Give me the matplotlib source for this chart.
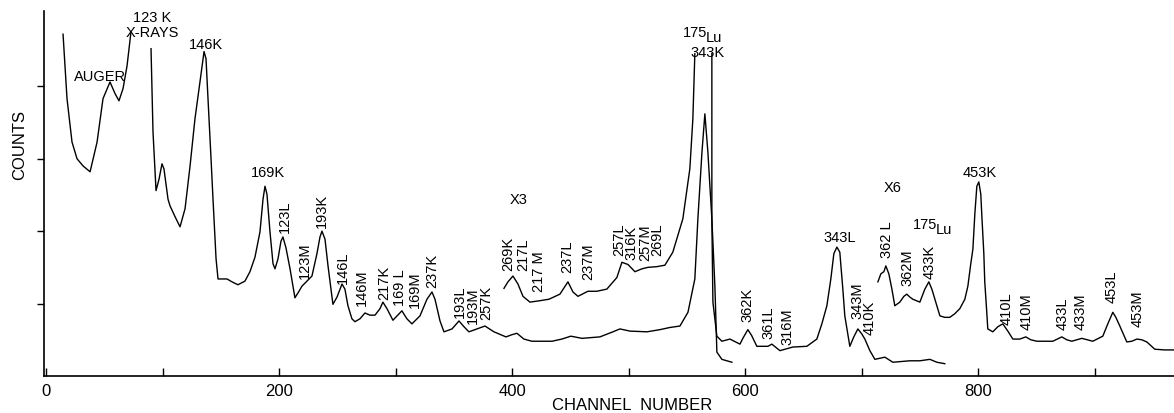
import numpy as np
import matplotlib
matplotlib.use("Agg")
import matplotlib.pyplot as plt

plt.rcParams['font.family'] = ['Liberation Sans', 'DejaVu Sans']

# spectrum (channel, counts in arbitrary units)
# nan = pen off scale
ch_main = [14.6, 18.0, 22.3, 26.6, 31.8, 37.8, 43.8, 48.9, 54.9, 59.2, 62.6, 66.1, 69.5, 72.9,
           80.0,
           90.1, 91.8, 94.4, 97.0, 99.5, 101.2, 104.7, 106.4, 110.7, 115.0, 119.3, 123.6, 127.8,
           132.1, 135.6, 137.3, 139.0, 141.6, 143.3, 145.9, 147.6, 151.0, 155.3, 159.6, 164.7,
           170.7, 175.0, 179.3, 183.6, 186.2, 187.9, 189.6, 192.2, 194.8, 196.5, 199.1, 201.6,
           203.3, 205.9, 209.4, 213.6, 217.1, 219.6, 223.9, 228.2, 232.5, 235.1, 236.8, 239.4,
           242.0, 246.2, 249.7, 254.0, 256.5, 259.1, 262.5, 265.1, 269.4, 273.7, 278.0, 282.3,
           286.6, 289.1, 292.6, 297.7, 305.4, 309.7, 314.0, 320.9, 326.9, 331.2, 333.8, 338.1,
           341.5, 348.4, 354.4, 358.7, 362.9, 369.8, 376.7, 384.4, 394.7, 399.8, 404.1, 410.1,
           417.0, 434.2, 442.7, 450.4, 459.9, 475.3, 486.5, 492.5, 501.1, 515.7, 526.8, 535.4,
           544.0, 550.9, 556.8, 559.4, 562.9, 565.4, 568.0, 571.4, 574.0, 575.7, 580.0, 588.6]
y_main = [4.72, 3.83, 3.23, 3.00, 2.90, 2.82, 3.23, 3.83, 4.06, 3.90, 3.80, 3.97, 4.28, 4.75,
          np.nan,
          4.52, 3.37, 2.56, 2.72, 2.93, 2.86, 2.44, 2.35, 2.20, 2.06, 2.31, 2.90, 3.55,
          4.06, 4.48, 4.38, 3.83, 3.00, 2.44, 1.62, 1.34, 1.34, 1.34, 1.30, 1.26,
          1.31, 1.44, 1.64, 1.99, 2.44, 2.62, 2.51, 1.99, 1.55, 1.48, 1.62, 1.86,
          1.92, 1.77, 1.48, 1.08, 1.17, 1.24, 1.31, 1.38, 1.69, 1.92, 2.00, 1.89,
          1.52, 0.99, 1.09, 1.27, 1.20, 0.97, 0.79, 0.75, 0.79, 0.87, 0.84, 0.84,
          0.93, 1.02, 0.93, 0.77, 0.90, 0.79, 0.72, 0.83, 1.06, 1.16, 1.06, 0.76,
          0.61, 0.65, 0.76, 0.68, 0.61, 0.65, 0.69, 0.61, 0.54, 0.57, 0.59, 0.51,
          0.48, 0.48, 0.51, 0.55, 0.52, 0.54, 0.61, 0.65, 0.62, 0.61, 0.64, 0.67,
          0.69, 0.88, 1.34, 2.17, 3.09, 3.62, 3.09, 2.17, 1.24, 0.33, 0.23, 0.19]

# x3 section
ch_x3 = [393.0, 396.4, 400.7, 405.0, 409.3, 415.3, 423.9, 431.6, 441.0, 447.9, 452.2, 456.5,
         465.0, 472.7, 481.3, 489.9, 494.2, 499.4, 505.4, 511.4, 516.5, 524.2, 531.1, 537.9,
         546.5, 552.5, 555.1, 556.8,
         564.0,
         571.4, 571.4, 572.3, 575.7, 580.0, 586.9, 595.5, 598.0, 602.3, 605.5, 610.0, 619.5,
         622.9, 629.8, 640.9, 652.9, 661.5, 665.8, 670.1, 673.5, 676.1, 678.7, 681.2, 683.8,
         685.5, 689.8, 693.2, 696.7, 700.1, 702.7, 707.0, 711.3, 719.9, 726.7, 741.3, 749.9,
         758.5, 764.5, 771.3]
y_x3 = [1.21, 1.30, 1.38, 1.27, 1.10, 1.02, 1.04, 1.06, 1.13, 1.30, 1.16, 1.10,
        1.17, 1.17, 1.20, 1.36, 1.57, 1.54, 1.44, 1.48, 1.50, 1.51, 1.53, 1.71,
        2.17, 2.86, 3.55, 4.45,
        np.nan,
        4.45, 2.17, 1.02, 0.55, 0.48, 0.51, 0.44, 0.52, 0.64, 0.56, 0.41, 0.41,
        0.44, 0.35, 0.40, 0.41, 0.51, 0.72, 0.97, 1.34, 1.69, 1.78, 1.71, 1.20,
        0.83, 0.41, 0.54, 0.65, 0.58, 0.51, 0.35, 0.23, 0.26, 0.19, 0.21, 0.21,
        0.23, 0.19, 0.17]

# x6 section
ch_x6 = [713.9, 716.4, 719.0, 720.7, 723.3, 725.9, 728.4, 732.7, 736.2, 738.7, 741.3, 743.9,
         749.9, 754.2, 757.6, 760.2, 762.8, 767.1, 771.3, 775.6, 779.9, 784.2, 788.5, 791.1,
         793.6, 795.4, 797.1, 798.8, 800.5, 802.2, 803.1, 804.8, 805.6, 807.4, 808.2, 812.5,
         816.8, 821.1, 825.4, 829.7, 835.7, 840.8, 845.1, 850.3, 864.0, 871.7, 876.0, 880.3,
         888.9, 898.3, 906.9, 911.2, 915.5, 918.1, 921.5, 927.5, 931.8, 936.1, 940.4, 944.7,
         951.5, 960.1, 968.0]
y_x6 = [1.30, 1.41, 1.44, 1.52, 1.41, 1.20, 0.97, 1.02, 1.10, 1.13, 1.09, 1.06,
        1.02, 1.20, 1.30, 1.20, 1.06, 0.83, 0.81, 0.81, 0.86, 0.93, 1.06, 1.24,
        1.55, 1.75, 2.24, 2.62, 2.68, 2.51, 2.21, 1.69, 1.30, 0.86, 0.65, 0.61,
        0.68, 0.72, 0.62, 0.51, 0.51, 0.54, 0.50, 0.48, 0.48, 0.54, 0.50, 0.48,
        0.52, 0.48, 0.55, 0.72, 0.88, 0.81, 0.69, 0.47, 0.48, 0.51, 0.50, 0.47,
        0.37, 0.36, 0.36]

# peak labels: text, channel, height
flat_labels = [("AUGER", 46.3, 4.14), ("123 K", 91.0, 4.96), ("X-RAYS", 91.0, 4.75),
               ("146K", 137.3, 4.59), ("169K", 190.5, 2.82), ("X3", 405.8, 2.44),
               ("343K", 568.0, 4.48), ("343L", 681.2, 1.92), ("X6", 726.7, 2.61),
               ("453K", 801.4, 2.82)]
rot_labels = [("123L", 205.1, 2.21), ("123M", 222.2, 1.60), ("193K", 236.8, 2.29),
              ("146L", 254.8, 1.51), ("146M", 271.1, 1.23), ("217K", 290.0, 1.30),
              ("169 L", 303.7, 1.23), ("169M", 316.6, 1.20), ("237K", 331.2, 1.46),
              ("193L", 355.2, 1.04), ("193M", 366.4, 0.99), ("257K", 377.5, 1.02),
              ("269K", 396.4, 1.70), ("217L", 409.3, 1.69), ("217 M", 423.0, 1.45),
              ("237L", 447.0, 1.66), ("237M", 465.0, 1.59), ("257L", 491.6, 1.89),
              ("316K", 502.8, 1.85), ("257M", 513.9, 1.85), ("269L", 524.2, 1.89),
              ("362K", 602.3, 0.99), ("361L", 620.3, 0.75), ("316M", 636.6, 0.69),
              ("343M", 696.7, 1.06), ("410K", 707.0, 0.81), ("362 L", 721.6, 1.89),
              ("362M", 739.6, 1.51), ("433K", 758.5, 1.59), ("410L", 824.5, 0.95),
              ("410M", 841.7, 0.90), ("433L", 872.6, 0.88), ("433M", 888.0, 0.90),
              ("453L", 914.6, 1.24), ("453M", 936.9, 0.95)]
lu_labels = [(556.8, 4.75), (754.2, 2.10)]

fig = plt.figure(figsize=(11.74, 4.14), dpi=100)
ax = fig.add_axes([43.7 / 1174, 37 / 414, 1130.3 / 1174, 365 / 414])

for xs, ys in [(ch_main, y_main), (ch_x3, y_x3), (ch_x6, y_x6)]:
    ax.plot(xs, ys, color='black', lw=1.0, solid_joinstyle='round')

for t, x, y in flat_labels:
    ax.text(x, y, t, ha='center', va='center', fontsize=10.5)
for t, x, y in rot_labels:
    ax.text(x, y, t, ha='center', va='center', fontsize=10.5, rotation=90)
for x, y in lu_labels:
    ax.text(x, y, "175", ha='center', va='center', fontsize=10.5)
    ax.text(x + 16, y - 0.07, "Lu", ha='center', va='center', fontsize=10.5)

ax.set_xlim(-2, 968)
ax.set_ylim(0, 5.04)
ax.spines['top'].set_visible(False)
ax.spines['right'].set_visible(False)
for s in ['left', 'bottom']:
    ax.spines[s].set_linewidth(1.2)

ax.set_xticks([0, 200, 400, 600, 800])
ax.set_xticks([100, 300, 500, 700, 900], minor=True)
ax.tick_params(axis='x', which='both', direction='in', length=6, width=1, labelsize=12, pad=5)
ax.set_yticks([1, 2, 3, 4])
ax.set_yticklabels([])
ax.tick_params(axis='y', direction='out', length=5, width=1)

ax.text(0.521, -0.077, "CHANNEL  NUMBER", transform=ax.transAxes, ha='center', va='center',
        fontsize=12)
ax.text(-0.021, 0.636, "COUNTS", transform=ax.transAxes, ha='center', va='center',
        fontsize=12, rotation=90)

fig.savefig("out.png", dpi=100)
